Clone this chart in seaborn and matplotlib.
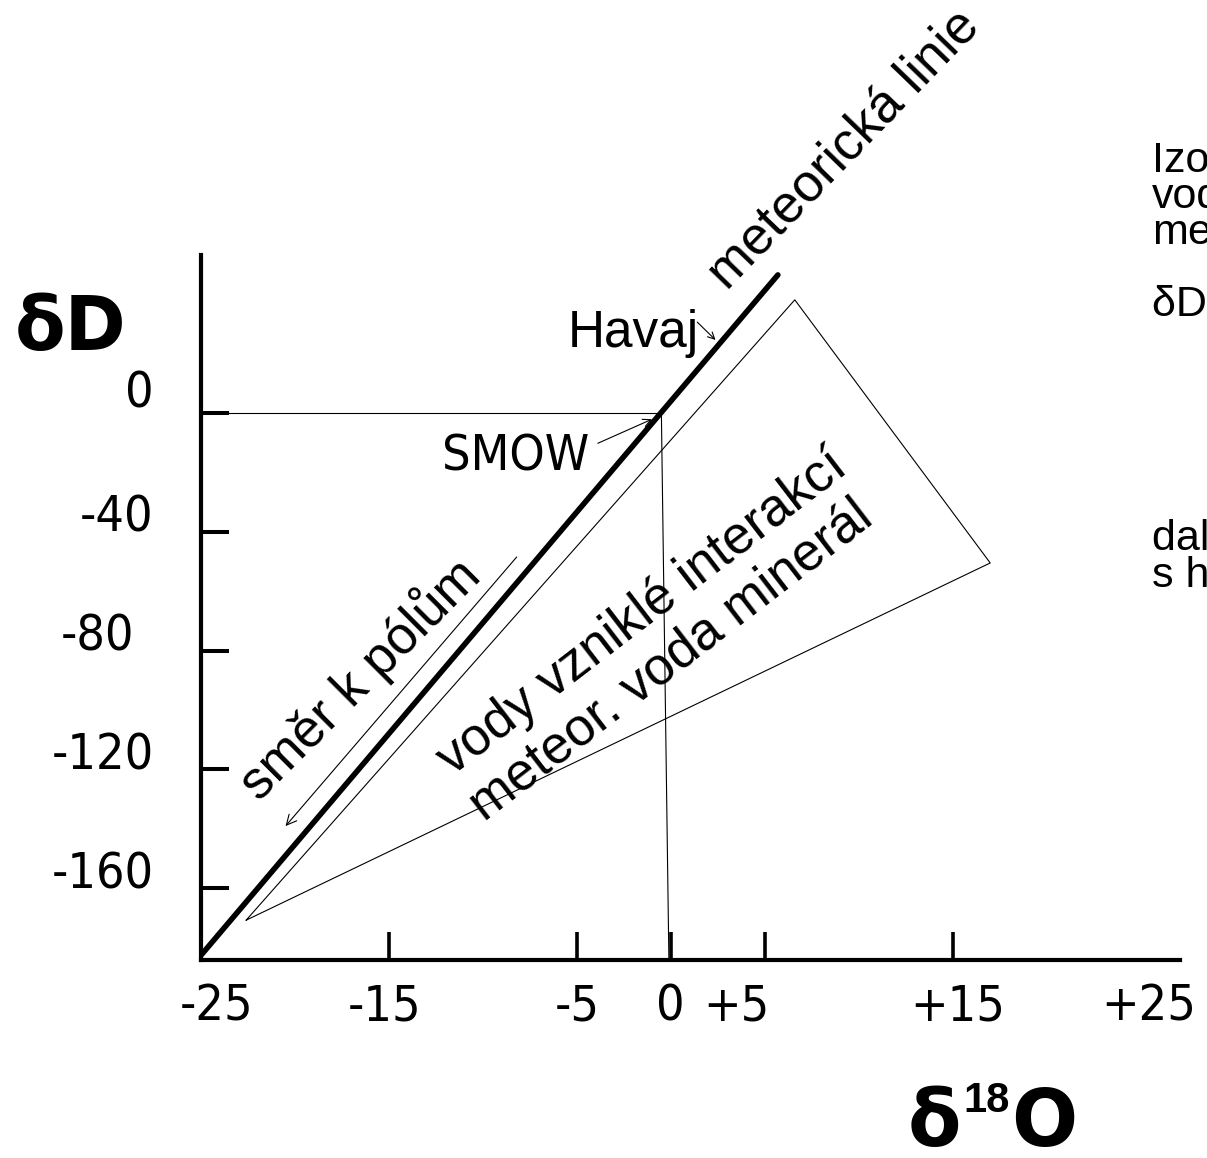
import os
import matplotlib
matplotlib.use("Agg")
import matplotlib.pyplot as plt
import seaborn as sns
from matplotlib import font_manager
from matplotlib.font_manager import FontProperties
from matplotlib.transforms import ScaledTranslation

# ---- axis ticks -------------------------------------------------------------
x_ticks = [-25, -15, -5, 0, 5, 15, 25]
x_tick_labels = ["-25", "-15", "-5", "0", "+5", "+15", "+25"]
y_ticks = [0, -40, -80, -120, -160]
y_tick_labels = ["0", "-40", "-80", "-120", "-160"]

# ---- meteoric water line (δ18O, δD) ----------------------------------------
meteoric_d18o = [-25.0, 5.7]
meteoric_dd = [-182.6, 46.5]

# ---- SMOW reference point and its guide lines to the axes -------------------
smow_d18o = -0.5
smow_dd = 0.0
guide_h_d18o = [-25.0, -0.5]
guide_h_dd = [0.0, 0.0]
guide_v_d18o = [-0.5, -0.1]
guide_v_dd = [0.0, -184.2]

# ---- field of waters from meteoric water / mineral interaction --------------
field_d18o = [-22.6, 6.6, 17.0, -22.6]
field_dd = [-170.8, 38.1, -50.5, -170.8]

# ---- arrow: direction towards the poles --------------------------------------
poles_start = (-8.2, -48.5)
poles_end = (-20.5, -139.1)


def narrow_font():
    """Pick a narrow sans face for the numeric labels if one is installed."""
    files = [f.fname for f in font_manager.fontManager.ttflist]
    prefs = [("liberationsansnarrow-regular", 40),
             ("dejavusanscondensed.ttf", 36),
             ("condensed-regular", 38),
             ("narrow-regular", 40)]
    for key, size in prefs:
        for fn in files:
            if key in os.path.basename(fn).lower():
                return FontProperties(fname=fn), size
    for fn in files:
        b = os.path.basename(fn).lower()
        if ("condensed" in b or "narrow" in b) and not any(
                k in b for k in ("bold", "italic", "oblique", "light", "black")):
            return FontProperties(fname=fn), 38
    return FontProperties(family="DejaVu Sans"), 31


sns.set_theme(style="white")
plt.rcParams["font.family"] = ["Liberation Sans", "DejaVu Sans"]
num_fp, num_size = narrow_font()

W, H = 1207, 1158
fig = plt.figure(figsize=(W / 100, H / 100), dpi=100)
fig.patch.set_facecolor("white")
ax = fig.add_axes([201 / W, (H - 960) / H, 979 / W, 705 / H])
ax.set_facecolor("white")
ax.set_xlim(-25, 27.1)
ax.set_ylim(-184.2, 53.2)

for side in ("top", "right"):
    ax.spines[side].set_visible(False)
for side in ("left", "bottom"):
    ax.spines[side].set_linewidth(3.0)
    ax.spines[side].set_color("black")

# lines
sns.lineplot(x=meteoric_d18o, y=meteoric_dd, sort=False, estimator=None,
             color="black", linewidth=4.0, ax=ax)
sns.lineplot(x=field_d18o, y=field_dd, sort=False, estimator=None,
             color="black", linewidth=0.8, ax=ax)
sns.lineplot(x=guide_h_d18o, y=guide_h_dd, sort=False, estimator=None,
             color="black", linewidth=0.8, ax=ax)
sns.lineplot(x=guide_v_d18o, y=guide_v_dd, sort=False, estimator=None,
             color="black", linewidth=0.8, ax=ax)

# ticks
ax.set_xticks(x_ticks, labels=x_tick_labels)
ax.set_yticks(y_ticks, labels=y_tick_labels)
ax.tick_params(axis="x", direction="in", length=20, width=2.6, color="black",
               pad=16, bottom=True)
ax.tick_params(axis="y", direction="in", length=20, width=2.9, color="black",
               pad=34, left=True)
for lbl in ax.get_xticklabels() + ax.get_yticklabels():
    lbl.set_fontproperties(num_fp)
    lbl.set_fontsize(num_size)
    lbl.set_color("black")
for lbl in ax.get_yticklabels():
    lbl.set_va("baseline")

# hand-set nudges of a few labels (pixels)
x_nudge = {0: 16, 1: -4, 4: -28, 5: 5, 6: 8}
for i, lbl in enumerate(ax.get_xticklabels()):
    dx = x_nudge.get(i, 0)
    if dx:
        lbl.set_transform(lbl.get_transform()
                          + ScaledTranslation(dx / 100, 0, fig.dpi_scale_trans))
y_nudge = {0: (0, 5), 2: (-20, 0)}
for i, lbl in enumerate(ax.get_yticklabels()):
    dx, dy = y_nudge.get(i, (0, 0))
    if dx or dy:
        lbl.set_transform(lbl.get_transform()
                          + ScaledTranslation(dx / 100, dy / 100, fig.dpi_scale_trans))

xt = ax.xaxis.get_major_ticks()
xt[0].tick1line.set_visible(False)
xt[-1].tick1line.set_visible(False)
ax.set_xlabel("")
ax.set_ylabel("")
ax.grid(False)

# annotations
ax.text(3.0, 40.8, "meteorická linie", rotation=46, rotation_mode="anchor",
        ha="left", va="baseline", fontsize=38, color="black")
ax.text(-5.5, 22.3, "Havaj", ha="left", va="baseline", fontsize=37, color="black")
ax.annotate("", xy=(2.38, 24.6), xytext=(1.41, 30.6),
            arrowprops=dict(arrowstyle="->", lw=0.8, color="black",
                            shrinkA=0, shrinkB=0, mutation_scale=12))
smow_fp = num_fp.copy()
smow_fp.set_size(num_size)
ax.text(-12.15, -19.4, "SMOW", ha="left", va="baseline",
        fontproperties=smow_fp, color="black")
ax.annotate("", xy=(smow_d18o - 0.5, smow_dd - 2.1), xytext=(-3.88, -10.2),
            arrowprops=dict(arrowstyle="->", lw=0.8, color="black",
                            shrinkA=0, shrinkB=0, mutation_scale=14))
ax.annotate("", xy=poles_end, xytext=poles_start,
            arrowprops=dict(arrowstyle="->", lw=0.8, color="black",
                            shrinkA=0, shrinkB=0, mutation_scale=18))
ax.text(-21.9, -131.0, "směr k pólům", rotation=45, rotation_mode="anchor",
        ha="left", va="baseline", fontsize=38, color="black")
ax.text(-11.6, -122.3, "vody vzniklé interakcí", rotation=37.5,
        rotation_mode="anchor", ha="left", va="baseline", fontsize=38, color="black")
ax.text(-9.9, -137.8, "meteor. voda minerál", rotation=37.5,
        rotation_mode="anchor", ha="left", va="baseline", fontsize=38, color="black")

# axis titles
fig.text(15 / W, 1 - 350 / H, "δD", fontsize=53, fontweight="bold",
         fontfamily="DejaVu Sans", ha="left", va="baseline", color="black")
fig.text(908 / W, 1 - 1146 / H, "δ", fontsize=56, fontweight="bold",
         fontfamily="DejaVu Sans", ha="left", va="baseline", color="black")
fig.text(963 / W, 1 - 1112 / H, "18", fontsize=30, fontweight="bold",
         fontfamily="Liberation Sans", ha="left", va="baseline", color="black")
fig.text(1011 / W, 1 - 1146 / H, "O", fontsize=56, fontweight="bold",
         fontfamily="DejaVu Sans", ha="left", va="baseline", color="black")

# side notes running off the right edge
side_notes = [("Izotopové složení", 172), ("vod", 208), ("meteorických", 244),
              ("δD = 8 δ¹⁸O + 10", 316), ("další interakce", 550),
              ("s horninami", 587)]
for txt, base in side_notes:
    fig.text(1152 / W, 1 - base / H, txt, fontsize=31, ha="left",
             va="baseline", color="black")

fig.savefig("out.png", dpi=100, facecolor="white")
